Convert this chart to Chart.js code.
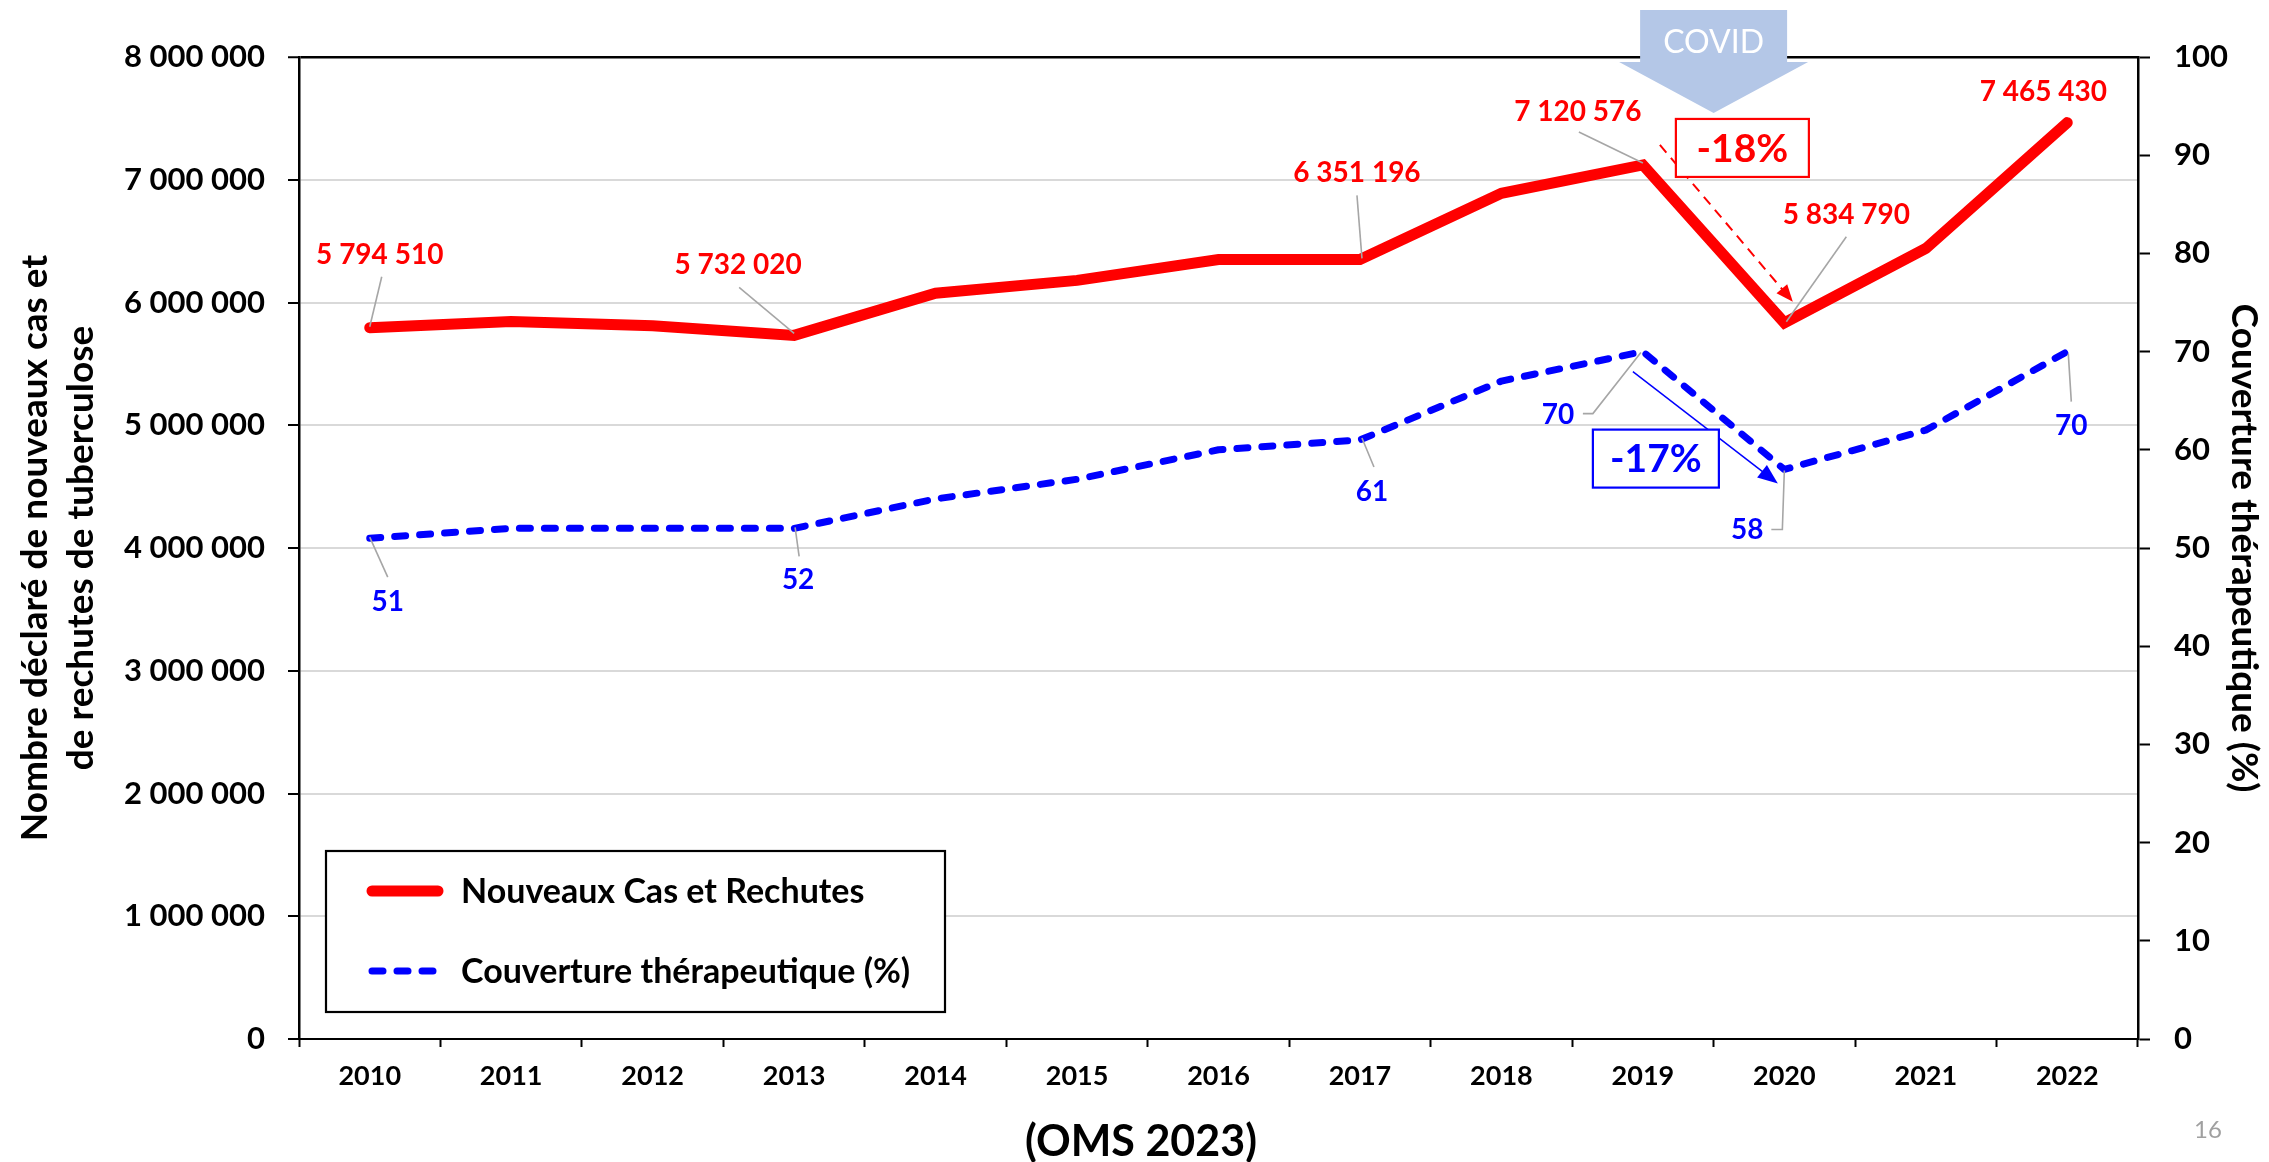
<!DOCTYPE html>
<html><head><meta charset="utf-8">
<script src="https://cdn.jsdelivr.net/npm/chart.js@4.4.1/dist/chart.umd.min.js"></script>
<style>html,body{margin:0;padding:0;background:#fff;}#wrap{width:2269px;height:1162px;position:relative;}</style>
</head><body><div id="wrap"><canvas id="c" width="2269" height="1162"></canvas></div>
<script>
// ---- data ----
const years = ['2010','2011','2012','2013','2014','2015','2016','2017','2018','2019','2020','2021','2022'];
const newCases = [5794510, 5845000, 5810000, 5732020, 6075000, 6180000, 6350000, 6351196, 6890000, 7120576, 5834790, 6440000, 7465430];
const coverage = [51, 52, 52, 52, 55, 57, 60, 61, 67, 70, 58, 62, 70];
const seriesNames = ['Nouveaux Cas et Rechutes', 'Couverture thérapeutique (%)'];
const leftAxisMax = 8000000, leftAxisStep = 1000000;
const rightAxisMax = 100, rightAxisStep = 10;
const leftTitle = ['Nombre déclaré de nouveaux cas et', 'de rechutes de tuberculose'];
const rightTitle = 'Couverture thérapeutique (%)';
const labeledCaseIdx = [0, 3, 7, 9, 10, 12];
const labeledCoverageIdx = [0, 3, 7, 9, 10, 12];
const covidFrom = 9, covidTo = 10;
const dropCases = '-18%', dropCoverage = '-17%';
const covidText = 'COVID';
const sourceText = '(OMS 2023)';
const pageNumber = '16';

const FONT = 'Lato, "Liberation Sans", sans-serif';
const fmt = n => String(n).replace(/\B(?=(\d{3})+(?!\d))/g, ' ');

// label placement (offsets from the data point, px)
const caseLabelLayout = {
  0:  {t:[10,-73], l:[[12,-51],[0,-1]]},
  3:  {t:[-56,-70], l:[[-55,-48],[0,-2]]},
  7:  {t:[-3,-86], l:[[-3,-64],[2,-1]]},
  9:  {t:[-65,-53], l:[[-64,-33],[0,-2]]},
  10: {t:[62,-108], l:[[62,-86],[2,-1]]},
  12: {t:[-24,-31], l:null}
};
const covLabelLayout = {
  0:  {t:[18,64], l:[[18,39],[0,-1]]},
  3:  {t:[4,52], l:[[5,28],[1,-1]]},
  7:  {t:[12,52], l:[[14,27],[2,-2]]},
  9:  {t:[-85,63], l:[[-60,62],[-50,62],[-2,1]]},
  10: {t:[-37,61], l:[[-13,60],[-2,60],[0,1]]},
  12: {t:[4,74], l:[[4,50],[1,2]]}
};

function arrowHead(ctx, x1, y1, x2, y2, len, wid, color){
  const a = Math.atan2(y2-y1, x2-x1);
  ctx.save();
  ctx.fillStyle = color;
  ctx.beginPath();
  ctx.moveTo(x2, y2);
  ctx.lineTo(x2 - len*Math.cos(a) + wid*Math.sin(a), y2 - len*Math.sin(a) - wid*Math.cos(a));
  ctx.lineTo(x2 - len*Math.cos(a) - wid*Math.sin(a), y2 - len*Math.sin(a) + wid*Math.cos(a));
  ctx.closePath();
  ctx.fill();
  ctx.restore();
}

const decorPlugin = {
  id: 'decor',
  afterDatasetsDraw(chart){
    const ctx = chart.ctx;
    const xs = chart.scales.x, ys = chart.scales.y, yr = chart.scales.y1;
    const ca = chart.chartArea;
    const P = (i, v, sc) => [xs.getPixelForValue(i), sc.getPixelForValue(v)];

    // data labels with leader lines
    function drawLabels(idxs, vals, sc, layout, color, txt){
      idxs.forEach(i => {
        const [px, py] = P(i, vals[i], sc);
        const L = layout[i];
        if (L.l){
          ctx.save();
          ctx.strokeStyle = '#a6a6a6';
          ctx.lineWidth = 1.6;
          ctx.beginPath();
          L.l.forEach((p, k) => { k ? ctx.lineTo(px+p[0], py+p[1]) : ctx.moveTo(px+p[0], py+p[1]); });
          ctx.stroke();
          ctx.restore();
        }
        ctx.save();
        ctx.font = 'bold 28px ' + FONT;
        ctx.fillStyle = color;
        ctx.textAlign = 'center';
        ctx.textBaseline = 'middle';
        ctx.fillText(txt(vals[i]), px + L.t[0], py + L.t[1]);
        ctx.restore();
      });
    }
    drawLabels(labeledCaseIdx, newCases, ys, caseLabelLayout, '#ff0000', fmt);
    drawLabels(labeledCoverageIdx, coverage, yr, covLabelLayout, '#0000ff', v => String(v));

    // red dashed arrow
    const [r9x, r9y] = P(covidFrom, newCases[covidFrom], ys);
    const [r10x, r10y] = P(covidTo, newCases[covidTo], ys);
    ctx.save();
    ctx.strokeStyle = '#ff0000'; ctx.lineWidth = 2;
    ctx.setLineDash([10, 7]);
    const ra = [r9x+17, r9y-20], rb = [r10x+8.5, r10y-21];
    const ang = Math.atan2(rb[1]-ra[1], rb[0]-ra[0]);
    ctx.beginPath(); ctx.moveTo(ra[0], ra[1]);
    ctx.lineTo(rb[0]-14*Math.cos(ang), rb[1]-14*Math.sin(ang)); ctx.stroke();
    ctx.restore();
    arrowHead(ctx, ra[0], ra[1], rb[0], rb[1], 17, 7, '#ff0000');
    function box(cx, cy, w, h, color, text){
      ctx.save();
      ctx.fillStyle = '#fff';
      ctx.fillRect(cx-w/2, cy-h/2, w, h);
      ctx.strokeStyle = color; ctx.lineWidth = 2.2;
      ctx.strokeRect(cx-w/2, cy-h/2, w, h);
      ctx.font = 'bold 39px ' + FONT;
      ctx.fillStyle = color; ctx.textAlign = 'center'; ctx.textBaseline = 'middle';
      ctx.fillText(text, cx, cy+1);
      ctx.restore();
    }

    // blue arrow
    const [b9x, b9y] = P(covidFrom, coverage[covidFrom], yr);
    const [b10x, b10y] = P(covidTo, coverage[covidTo], yr);
    const ba = [b9x-10, b9y+20], bb = [b10x-6.5, b10y+14];
    const bang = Math.atan2(bb[1]-ba[1], bb[0]-ba[0]);
    ctx.save();
    ctx.strokeStyle = '#0000ff'; ctx.lineWidth = 1.5;
    ctx.beginPath(); ctx.moveTo(ba[0], ba[1]);
    ctx.lineTo(bb[0]-14*Math.cos(bang), bb[1]-14*Math.sin(bang)); ctx.stroke();
    ctx.restore();
    arrowHead(ctx, ba[0], ba[1], bb[0], bb[1], 20, 8, '#0000ff');
    box(b9x+13, b9y+107, 126, 58, '#0000ff', dropCoverage);
    box(r9x+99.5, r9y-17, 133, 58, '#ff0000', dropCases);

    // legend
    const lx = ca.left + 27, ly = ca.bottom - 27 - 161, lw = 619, lh = 161;
    ctx.save();
    ctx.fillStyle = '#fff'; ctx.fillRect(lx, ly, lw, lh);
    ctx.strokeStyle = '#000'; ctx.lineWidth = 2.2; ctx.strokeRect(lx, ly, lw, lh);
    ctx.lineCap = 'round';
    ctx.strokeStyle = '#ff0000'; ctx.lineWidth = 11;
    ctx.beginPath(); ctx.moveTo(lx+46, ly+40); ctx.lineTo(lx+112, ly+40); ctx.stroke();
    ctx.strokeStyle = '#0000ff'; ctx.lineWidth = 7; ctx.setLineDash([11, 14]);
    ctx.beginPath(); ctx.moveTo(lx+46, ly+120); ctx.lineTo(lx+112, ly+120); ctx.stroke();
    ctx.setLineDash([]);
    ctx.font = 'bold 34px ' + FONT; ctx.fillStyle = '#000';
    ctx.textAlign = 'left'; ctx.textBaseline = 'middle';
    ctx.fillText(seriesNames[0], lx+135, ly+41);
    ctx.fillText(seriesNames[1], lx+135, ly+121);
    ctx.restore();

    // COVID arrow
    const cx = (xs.getPixelForValue(covidFrom) + xs.getPixelForValue(covidTo)) / 2;
    const t = ca.top;
    ctx.save();
    ctx.fillStyle = '#b4c7e7';
    ctx.beginPath();
    ctx.moveTo(cx-73.5, t-47); ctx.lineTo(cx+73.5, t-47); ctx.lineTo(cx+73.5, t+5);
    ctx.lineTo(cx+94.5, t+5); ctx.lineTo(cx, t+56); ctx.lineTo(cx-94.5, t+5);
    ctx.lineTo(cx-73.5, t+5); ctx.closePath(); ctx.fill();
    ctx.font = '32px ' + FONT; ctx.fillStyle = '#fff';
    ctx.textAlign = 'center'; ctx.textBaseline = 'middle';
    ctx.fillText(covidText, cx, t-14);
    ctx.restore();

    // source & page number
    ctx.save();
    ctx.font = 'bold 43px ' + FONT; ctx.fillStyle = '#000';
    ctx.textAlign = 'center'; ctx.textBaseline = 'middle';
    ctx.fillText(sourceText, 1141, 1142);
    ctx.font = '24px ' + FONT; ctx.fillStyle = '#a0a0a0';
    ctx.fillText(pageNumber, 2208, 1130);
    ctx.restore();
  }
};

new Chart(document.getElementById('c'), {
  type: 'line',
  data: {
    labels: years,
    datasets: [
      { label: seriesNames[0], data: newCases, yAxisID: 'y', borderColor: '#ff0000', backgroundColor: '#ff0000',
        borderWidth: 11, pointRadius: 0, pointHoverRadius: 0, tension: 0, borderCapStyle: 'round', borderJoinStyle: 'miter' },
      { label: seriesNames[1], data: coverage, yAxisID: 'y1', borderColor: '#0000ff', backgroundColor: '#0000ff',
        borderWidth: 7, borderDash: [11, 14], borderCapStyle: 'round', borderJoinStyle: 'round',
        pointRadius: 0, pointHoverRadius: 0, tension: 0 }
    ]
  },
  options: {
    responsive: false, animation: false, devicePixelRatio: 1,
    layout: { padding: { top: 57, left: 0, right: 0, bottom: 0 } },
    plugins: { legend: { display: false }, tooltip: { enabled: false }, title: { display: false } },
    scales: {
      x: {
        type: 'category', offset: true,
        grid: { offset: true, drawOnChartArea: false, tickLength: 8, tickColor: '#000', tickWidth: 2 },
        border: { color: '#000', width: 2 },
        ticks: { color: '#000', font: { family: FONT, size: 27, weight: 'bold' }, padding: 13, maxRotation: 0, autoSkip: false },
        afterFit: s => { s.height = 123; }
      },
      y: {
        position: 'left', min: 0, max: leftAxisMax,
        ticks: { stepSize: leftAxisStep, color: '#000', padding: 23, autoSkip: false,
                 font: { family: FONT, size: 31, weight: 'bold' }, callback: v => fmt(v) },
        grid: { color: c => (c.tick && c.tick.value === leftAxisMax) ? '#000' : '#d9d9d9',
                lineWidth: c => (c.tick && c.tick.value === leftAxisMax) ? 2.5 : 2,
                tickLength: 11, tickColor: '#000', tickWidth: 2 },
        border: { color: '#000', width: 2.5 },
        title: { display: true, text: leftTitle, color: '#000',
                 font: { family: FONT, size: 37, weight: 'bold', lineHeight: 1.25 }, padding: { top: 12, bottom: 0 } },
        afterFit: s => { s.width = 299; }
      },
      y1: {
        position: 'right', min: 0, max: rightAxisMax,
        ticks: { stepSize: rightAxisStep, color: '#000', padding: 24, autoSkip: false,
                 font: { family: FONT, size: 31, weight: 'bold' } },
        grid: { drawOnChartArea: false, tickLength: 12, tickColor: '#000', tickWidth: 2 },
        border: { color: '#000', width: 2.5 },
        title: { display: true, text: rightTitle, color: '#000',
                 font: { family: FONT, size: 37, weight: 'bold', lineHeight: 1.25 }, padding: { top: 2, bottom: 0 } },
        afterFit: s => { s.width = 131; }
      }
    }
  },
  plugins: [decorPlugin]
});
</script></body></html>
